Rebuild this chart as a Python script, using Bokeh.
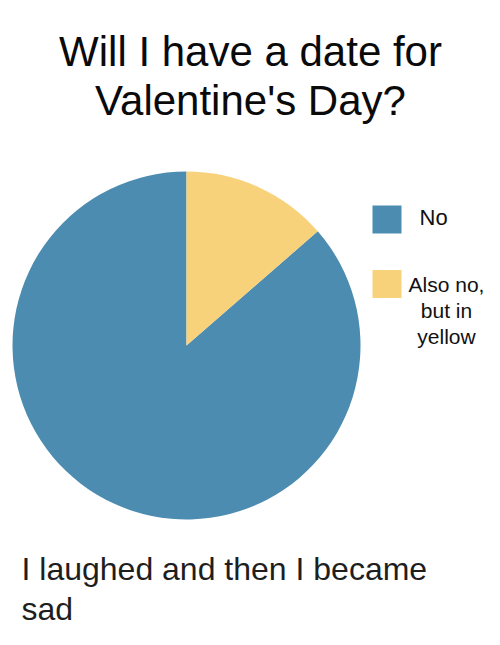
import math
from bokeh.plotting import figure
from bokeh.models import Range1d
from bokeh.core.properties import value
from bokeh.embed import file_html
from bokeh.resources import INLINE

# ---- data ----
categories = ["No", "Also no,\nbut in\nyellow"]
shares = [86.4, 13.6]
colors = ["#4c8cb1", "#f8d27b"]
title_lines = ["Will I have a date for", "Valentine's Day?"]
caption_lines = ["I laughed and then I became", "sad"]

# ---- layout helpers (reference pixel coords, y measured from top) ----
FIG_W, FIG_H = 484, 629
def Y(y):
    return FIG_H - y

def BL(baseline, size):
    # text anchor so that the glyph baseline lands at `baseline` (px from top)
    return Y(baseline - 0.36 * size)

FONT = value("Liberation Sans")

p = figure(width=FIG_W, height=FIG_H, x_range=Range1d(0, FIG_W), y_range=Range1d(0, FIG_H),
           output_backend="svg", toolbar_location=None, min_border=0)
p.axis.visible = False
p.grid.visible = False
p.outline_line_color = None
p.background_fill_color = "white"
p.border_fill_color = "white"

# ---- pie ----
cx, cy, r = 186, Y(345), 174
total = float(sum(shares))
starts, ends = [], []
acc = 0.0
for s in shares:
    a0 = math.pi / 2 + 2 * math.pi * acc / total
    acc += s
    a1 = math.pi / 2 + 2 * math.pi * acc / total
    starts.append(a0)
    ends.append(a1)
p.wedge(x=[cx] * len(shares), y=[cy] * len(shares), radius=r,
        start_angle=starts, end_angle=ends, direction="anticlock",
        fill_color=colors, line_color=None)

# ---- legend ----
sq_y = [219, 283.5]
p.rect(x=[386.5] * len(categories), y=[Y(v) for v in sq_y], width=29, height=28,
       fill_color=colors, line_color=None)
p.text(x=[419], y=[BL(225, 22)], text=[categories[0]], text_font=FONT,
       text_font_size="22px", text_color="#111111", text_baseline="alphabetic",
       text_align="left", text_line_height=1.0)
lines = categories[1].split("\n")
p.text(x=[446] * len(lines), y=[BL(292 + 26 * i, 21) for i in range(len(lines))], text=lines,
       text_font=FONT, text_font_size="21px", text_color="#111111",
       text_baseline="alphabetic", text_align="center", text_line_height=1.0)

# ---- title ----
p.text(x=[250] * len(title_lines), y=[BL(66, 42), BL(115, 42)], text=title_lines, text_font=FONT,
       text_font_size="42px", text_color="#0a0a0a", text_baseline="alphabetic",
       text_align="center", text_line_height=1.0)

# ---- caption ----
p.text(x=[21] * len(caption_lines), y=[BL(580, 32), BL(620, 32)], text=caption_lines,
       text_font=FONT, text_font_size="32px", text_color="#1e1e1e",
       text_baseline="alphabetic", text_align="left", text_line_height=1.0)

open("out.html", "w").write(file_html(p, INLINE))
